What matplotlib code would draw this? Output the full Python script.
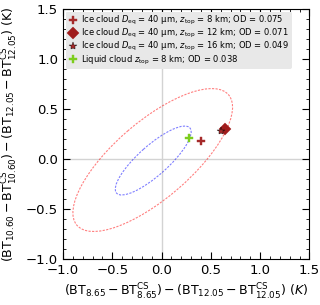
import matplotlib
matplotlib.use("Agg")
import matplotlib.pyplot as plt
import numpy as np
from matplotlib.patches import Ellipse
from matplotlib.ticker import MultipleLocator

# cloud points: x = BTD(8.65-12.05), y = BTD(10.60-12.05)
labels = [r'Ice cloud $D_{\mathrm{eq}}$ = 40 µm, $z_{\mathrm{top}}$ = 8 km; OD = 0.075',
          r'Ice cloud $D_{\mathrm{eq}}$ = 40 µm, $z_{\mathrm{top}}$ = 12 km; OD = 0.071',
          r'Ice cloud $D_{\mathrm{eq}}$ = 40 µm, $z_{\mathrm{top}}$ = 16 km; OD = 0.049',
          r'Liquid cloud $z_{\mathrm{top}}$ = 8 km; OD = 0.038']
x_pts = [0.40, 0.64, 0.60, 0.28]
y_pts = [0.18, 0.30, 0.28, 0.21]
markers = ['P', 'D', '*', 'P']
colors = ['#a52a2a', '#a01c1c', '#a52a2a', '#7ccd1c']
sizes = [6, 6, 6, 6]

# uncertainty ellipses (center, std x, std y, correlation)
ell_cx = [-0.085, -0.09]
ell_cy = [-0.015, -0.01]
ell_sx = [0.385, 0.81]
ell_sy = [0.345, 0.715]
ell_rho = [0.83, 0.74]
ell_col = ['blue', 'red']

fig = plt.figure(figsize=(3.2, 3.05), dpi=100)
ax = fig.add_axes([0.197, 0.151, 0.770, 0.819])

ax.axhline(0, color='lightgray', lw=1, zorder=0)
ax.axvline(0, color='lightgray', lw=1, zorder=0)

for cx, cy, sx, sy, rho, c in zip(ell_cx, ell_cy, ell_sx, ell_sy, ell_rho, ell_col):
    cov = np.array([[sx**2, rho*sx*sy], [rho*sx*sy, sy**2]])
    vals, vecs = np.linalg.eigh(cov)
    ang = np.degrees(np.arctan2(vecs[1, 1], vecs[0, 1]))
    e = Ellipse((cx, cy), 2*np.sqrt(vals[1]), 2*np.sqrt(vals[0]), angle=ang,
                fill=False, ls=(0, (2, 1.2)), lw=0.8, ec=c, alpha=0.5)
    ax.add_patch(e)

for x, y, m, c, s, l in zip(x_pts, y_pts, markers, colors, sizes, labels):
    ax.plot(x, y, m, color=c, ms=s, mec='black' if m == '*' else c, mew=0.3, label=l, ls='none')

ax.set_xlim(-1.0, 1.5)
ax.set_ylim(-1.0, 1.5)
ax.xaxis.set_major_locator(MultipleLocator(0.5))
ax.yaxis.set_major_locator(MultipleLocator(0.5))
ax.xaxis.set_minor_locator(MultipleLocator(0.1))
ax.yaxis.set_minor_locator(MultipleLocator(0.1))
ax.tick_params(which='both', direction='in', top=True, right=True, labelsize=9.5)
ax.tick_params(which='major', length=5)
ax.tick_params(which='minor', length=2.5)

ax.set_xlabel(r'$(\mathrm{BT}_{8.65} - \mathrm{BT}^{\mathrm{CS}}_{8.65}) - (\mathrm{BT}_{12.05} - \mathrm{BT}^{\mathrm{CS}}_{12.05})$ ($K$)', fontsize=9)
ax.set_ylabel(r'$(\mathrm{BT}_{10.60} - \mathrm{BT}^{\mathrm{CS}}_{10.60}) - (\mathrm{BT}_{12.05} - \mathrm{BT}^{\mathrm{CS}}_{12.05})$ (K)', fontsize=9)

leg = ax.legend(loc='upper left', fontsize=6, frameon=True, facecolor='#e8e8e8',
                edgecolor='none', framealpha=1, handletextpad=0.4, borderpad=0.3,
                labelspacing=0.0, handlelength=1.2, borderaxespad=0.3,
                handleheight=0.5)

fig.savefig('out.png', dpi=100)
